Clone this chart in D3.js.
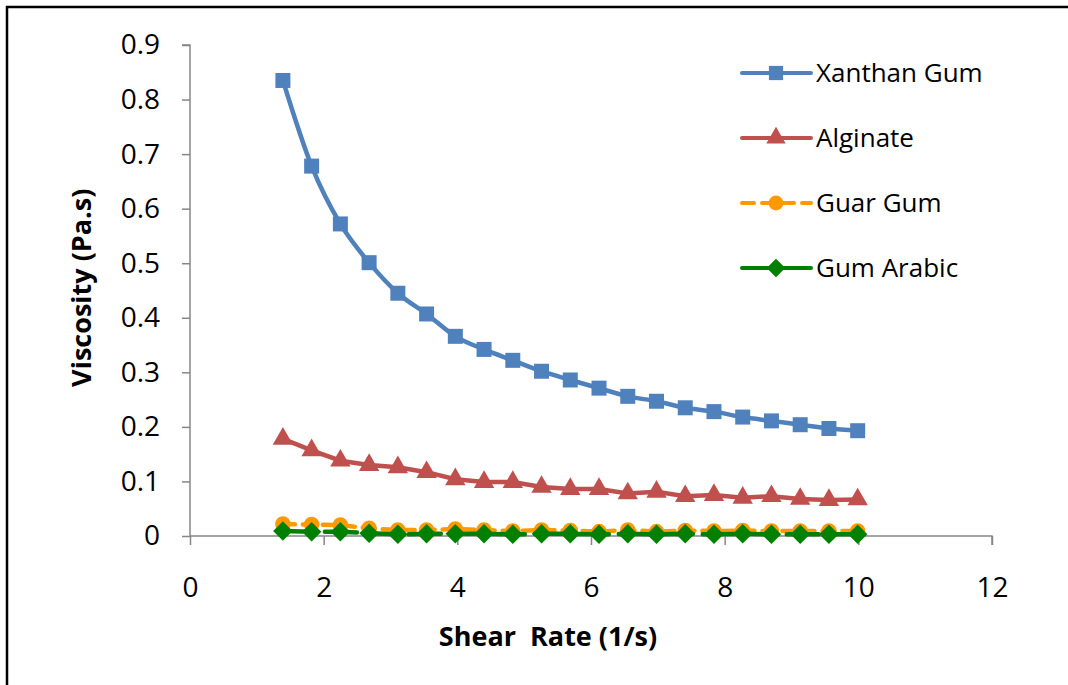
<!DOCTYPE html>
<html>
<head>
<meta charset="utf-8">
<script src="https://cdn.jsdelivr.net/npm/d3@7"></script>
<style>
  body { margin: 0; background: #fff; }
  text { font-family: "Open Sans", Lato, sans-serif; fill: #000; }
</style>
</head>
<body>
<script>
const shearRate = [1.39, 1.82, 2.25, 2.68, 3.11, 3.54, 3.97, 4.40, 4.83, 5.26, 5.69, 6.12, 6.55, 6.98, 7.41, 7.84, 8.27, 8.70, 9.13, 9.56, 9.99];
const xanthan = [0.835, 0.678, 0.572, 0.501, 0.445, 0.407, 0.366, 0.342, 0.322, 0.302, 0.286, 0.271, 0.256, 0.247, 0.235, 0.228, 0.218, 0.211, 0.204, 0.197, 0.193];
const alginate = [0.178, 0.157, 0.138, 0.130, 0.126, 0.117, 0.104, 0.099, 0.099, 0.090, 0.086, 0.086, 0.078, 0.081, 0.073, 0.075, 0.070, 0.073, 0.068, 0.066, 0.067];
const guar = [0.022, 0.021, 0.020, 0.014, 0.011, 0.011, 0.013, 0.011, 0.009, 0.011, 0.010, 0.008, 0.011, 0.008, 0.010, 0.009, 0.010, 0.009, 0.009, 0.009, 0.009];
const arabic = [0.009, 0.008, 0.008, 0.005, 0.003, 0.004, 0.004, 0.004, 0.003, 0.004, 0.004, 0.003, 0.004, 0.003, 0.004, 0.003, 0.004, 0.003, 0.003, 0.003, 0.003];
const xTicks = [0, 2, 4, 6, 8, 10, 12];
const yTicks = [0, 0.1, 0.2, 0.3, 0.4, 0.5, 0.6, 0.7, 0.8, 0.9];
const seriesNames = ['Xanthan Gum', 'Alginate', 'Guar Gum', 'Gum Arabic'];

const width = 1068, height = 685;
const svg = d3.select('body').append('svg')
    .attr('width', width)
    .attr('height', height);

// frame (only left and top edges show in the picture)
svg.append('path')
   .attr('d', `M7,${height} L7,7 L${width},7`)
   .attr('fill', 'none')
   .attr('stroke', '#000')
   .attr('stroke-width', 2.5);

const xScale = d3.scaleLinear().domain([0, 12]).range([190, 992]);
const yScale = d3.scaleLinear().domain([0, 0.9]).range([536, 45]);

const xAxis = d3.axisBottom(xScale).tickValues(xTicks).tickSize(9).tickPadding(38).tickFormat(d3.format('d'));
const gx = svg.append('g').attr('transform', `translate(0, ${yScale(0)})`).call(xAxis);
const yAxis = d3.axisLeft(yScale).tickValues(yTicks).tickSize(8).tickPadding(22).tickFormat(d => d === 0 ? '0' : d3.format('.1f')(d));
const gy = svg.append('g').attr('transform', `translate(${xScale(0)}, 0)`).call(yAxis);
[gx, gy].forEach(g => {
    g.selectAll('path.domain').attr('stroke', '#868686').attr('stroke-width', 1.5);
    g.selectAll('.tick line').attr('stroke', '#868686').attr('stroke-width', 1.5);
    g.selectAll('.tick text').style('font-size', '28px').attr('fill', '#000');
});
gx.selectAll('.tick text').attr('dy', '0.5em');
gy.select('path.domain').attr('d', `M-8,${yScale(0.9)}H0V${yScale(0)}`);
gx.select('path.domain').attr('d', `M${xScale(0)},0H${xScale(12)}V9`);

svg.append('text')
   .attr('x', 548).attr('y', 646)
   .attr('text-anchor', 'middle')
   .style('font-size', '27px').style('font-weight', 'bold')
   .style('white-space', 'pre')
   .text('Shear  Rate (1/s)');
svg.append('text')
   .attr('transform', `translate(91, ${yScale(0.455)}) rotate(-90)`)
   .attr('text-anchor', 'middle')
   .style('font-size', '27px').style('font-weight', 'bold')
   .text('Viscosity (Pa.s)');

const diamond = { draw(ctx, size) { const r = Math.sqrt(size / 2); ctx.moveTo(0, -r); ctx.lineTo(r, 0); ctx.lineTo(0, r); ctx.lineTo(-r, 0); ctx.closePath(); } };

const series = [
    { name: seriesNames[0], values: xanthan, color: '#4f81bd', dash: null, marker: d3.symbolSquare, size: 225, curve: d3.curveMonotoneX },
    { name: seriesNames[1], values: alginate, color: '#c0504d', dash: null, marker: d3.symbolTriangle, size: 180, curve: d3.curveLinear },
    { name: seriesNames[2], values: guar, color: '#ff9900', dash: '12,8', marker: d3.symbolCircle, size: 190, curve: d3.curveLinear },
    { name: seriesNames[3], values: arabic, color: '#008000', dash: '32,10', marker: diamond, size: 190, curve: d3.curveLinear }
];

series.forEach(s => {
    const line = d3.line()
        .x((d, i) => xScale(shearRate[i]))
        .y(d => yScale(d))
        .curve(s.curve);
    svg.append('path')
       .datum(s.values)
       .attr('d', line)
       .attr('fill', 'none')
       .attr('stroke', s.color)
       .attr('stroke-width', 4.5)
       .attr('stroke-linecap', 'round')
       .attr('stroke-dasharray', s.dash);
    svg.selectAll(null)
       .data(s.values)
       .enter()
       .append('path')
       .attr('d', d3.symbol().type(s.marker).size(s.size))
       .attr('transform', (d, i) => `translate(${xScale(shearRate[i])}, ${yScale(d)})`)
       .attr('fill', s.color);
});

// legend
const legend = svg.append('g');
series.forEach((s, i) => {
    const y = 73 + i * 65;
    legend.append('line')
       .attr('x1', 742).attr('x2', 811)
       .attr('y1', y).attr('y2', y)
       .attr('stroke', s.color)
       .attr('stroke-width', 4)
       .attr('stroke-linecap', 'round')
       .attr('stroke-dasharray', s.dash);
    legend.append('path')
       .attr('d', d3.symbol().type(s.marker).size(s.size * 0.9))
       .attr('transform', `translate(776, ${y})`)
       .attr('fill', s.color);
    legend.append('text')
       .attr('x', 816).attr('y', y + 9)
       .style('font-size', '26px')
       .text(s.name);
});
</script>
</body>
</html>
